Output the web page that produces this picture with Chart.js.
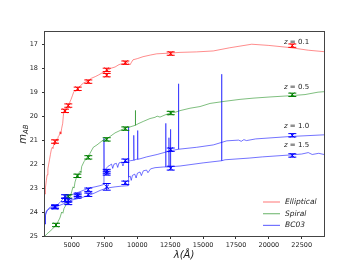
<!DOCTYPE html>
<html>
<head>
<meta charset="utf-8">
<script src="https://cdn.jsdelivr.net/npm/chart.js@4.4.0/dist/chart.umd.min.js"></script>
<style>
  html, body { margin: 0; padding: 0; background: #fff; }
  canvas { display: block; }
</style>
</head>
<body>
<canvas id="myChart" width="360" height="270"></canvas>
<script>
// spectra: wavelength (Angstrom) and AB magnitude
const ellLam = [2968, 3000, 3066, 3130, 3188, 3250, 3317, 3380, 3446, 3520, 3580, 3653, 3700, 3775, 3850, 3900, 3980, 4050, 4110, 4170, 4239, 4315, 4361, 4414, 4490, 4560, 4640, 4740, 4850, 4950, 5050, 5150, 5250, 5350, 5456, 5550, 5650, 5750, 5900, 6050, 6263, 6500, 6800, 7050, 7300, 7500, 7700, 8000, 8300, 8600, 8900, 9056, 9250, 9436, 9550, 9664, 10000, 10425, 11000, 11468, 12480, 13241, 14500, 15774, 17000, 18696, 20000, 21610, 23000, 24196];
const ellMag = [23.25, 23.0, 22.7, 22.45, 22.2, 22.0, 21.8, 21.6, 21.4, 21.3, 21.35, 21.12, 21.2, 21.05, 20.95, 21.05, 20.85, 20.8, 20.65, 20.75, 20.5, 20.3, 20.0, 19.76, 19.78, 19.7, 19.6, 19.55, 19.42, 19.3, 19.15, 19.0, 18.92, 18.95, 18.85, 18.82, 18.75, 18.68, 18.62, 18.58, 18.52, 18.42, 18.35, 18.28, 18.2, 18.16, 18.1, 18.0, 17.95, 17.85, 17.8, 17.8, 17.75, 17.86, 17.75, 17.65, 17.6, 17.52, 17.45, 17.4, 17.37, 17.34, 17.32, 17.28, 17.15, 17.0, 17.05, 17.14, 17.25, 17.31];

const spiLam = [2968, 3100, 3350, 3550, 3729, 3850, 3958, 4100, 4239, 4330, 4414, 4520, 4620, 4700, 4795, 4900, 5000, 5100, 5180, 5251, 5365, 5430, 5502, 5570, 5632, 5700, 5761, 5936, 6141, 6392, 6644, 6925, 7153, 7382, 7663, 7914, 8295, 8675, 9056, 9436, 9845, 9845, 9860, 10045, 10448, 10958, 11338, 11500, 11719, 12099, 12480, 12860, 13241, 14002, 14763, 15524, 16665, 17806, 18795, 20089, 21610, 22752, 23741, 24196];
const spiMag = [25.0, 24.92, 24.8, 24.7, 24.6, 24.5, 24.4, 24.25, 24.0, 24.05, 23.85, 23.75, 23.6, 23.62, 23.4, 23.35, 23.15, 22.95, 23.0, 22.75, 22.55, 22.48, 22.52, 22.35, 22.3, 22.35, 22.1, 21.9, 21.75, 21.55, 21.3, 21.2, 21.1, 21.0, 20.95, 20.85, 20.7, 20.6, 20.5, 20.45, 20.38, 19.76, 20.38, 20.32, 20.22, 20.1, 20.05, 20.0, 20.04, 19.95, 19.87, 19.84, 19.77, 19.67, 19.6, 19.47, 19.38, 19.3, 19.25, 19.2, 19.15, 19.1, 19.0, 18.98];

const bc1Lam = [2968, 3000, 3082, 3200, 3349, 3500, 3729, 3958, 4186, 4414, 4642, 4871, 5403, 5860, 6316, 6773, 7153, 7440, 7454, 7468, 7600, 7750, 7900, 8030, 8120, 8220, 8400, 8500, 8600, 8800, 8900, 9000, 9200, 9450, 9722, 9722, 9740, 9918, 10014, 10014, 10030, 10200, 10700, 11500, 12480, 13126, 13126, 13140, 14500, 15774, 16800, 17700, 17900, 18100, 18300, 19000, 21610, 24196];
const bc1Mag = [24.5, 24.1, 23.95, 23.88, 23.8, 23.78, 23.75, 23.68, 23.55, 23.4, 23.35, 23.3, 23.2, 23.1, 23.0, 22.95, 22.9, 22.85, 20.92, 22.3, 22.2, 22.1, 22.05, 22.0, 22.18, 22.0, 21.97, 22.14, 21.95, 21.92, 22.08, 21.9, 21.88, 21.86, 21.84, 20.8, 21.84, 21.8, 21.8, 20.6, 21.8, 21.78, 21.7, 21.6, 21.45, 21.38, 18.65, 21.38, 21.3, 21.2, 21.03, 21.0, 21.05, 20.98, 21.02, 20.95, 20.85, 20.78];

const bc15Lam = [2968, 3000, 3082, 3200, 3349, 3729, 4186, 4642, 5000, 5403, 5860, 6316, 6773, 7153, 7663, 8300, 8800, 9300, 9318, 9335, 9450, 9530, 9620, 9800, 9900, 10000, 10200, 10300, 10450, 10700, 10800, 11000, 11338, 12000, 12152, 12152, 12170, 12398, 12398, 12410, 12518, 12518, 12530, 13241, 15000, 16408, 16408, 16420, 16665, 18500, 19500, 21610, 22500, 23000, 23300, 23800, 24196];
const bc15Mag = [24.5, 24.15, 24.0, 23.9, 23.85, 23.8, 23.7, 23.6, 23.5, 23.45, 23.38, 23.3, 23.2, 23.1, 23.0, 22.95, 22.92, 22.9, 20.45, 22.55, 22.5, 22.68, 22.47, 22.42, 22.58, 22.38, 22.33, 22.48, 22.28, 22.25, 22.36, 22.2, 22.15, 22.12, 22.12, 20.3, 22.12, 22.12, 20.9, 22.12, 22.11, 20.55, 22.11, 22.08, 21.95, 21.86, 18.25, 21.86, 21.82, 21.75, 21.7, 21.62, 21.58, 21.52, 21.6, 21.55, 21.6];

// photometric points with errors
const ellPhotLam = [3730, 4490, 4740, 5456, 6263, 7663, 7663, 9078, 12533, 21784];
const ellPhotMag = [21.06, 19.78, 19.56, 18.86, 18.56, 18.07, 18.29, 17.77, 17.39, 17.06];
const ellPhotErr = [0.07, 0.07, 0.07, 0.07, 0.07, 0.07, 0.07, 0.07, 0.07, 0.07];
const spiPhotLam = [3806, 4740, 5430, 6263, 7663, 9078, 12533, 21784];
const spiPhotMag = [24.54, 23.35, 22.49, 21.72, 20.97, 20.52, 19.87, 19.11];
const spiPhotErr = [0.07, 0.07, 0.07, 0.07, 0.07, 0.07, 0.07, 0.07];
const bc1PhotLam = [3730, 4490, 4740, 5456, 6263, 7663, 7663, 9078, 12533, 21784];
const bc1PhotMag = [23.77, 23.35, 23.52, 23.28, 23.07, 22.3, 22.38, 21.86, 21.4, 20.8];
const bc1PhotErr = [0.07, 0.07, 0.07, 0.07, 0.07, 0.08, 0.08, 0.07, 0.07, 0.07];
const bc15PhotLam = [3730, 4490, 4740, 5456, 6263, 7663, 9078, 12533, 21784];
const bc15PhotMag = [23.8, 23.5, 23.62, 23.35, 23.28, 22.95, 22.78, 22.17, 21.64];
const bc15PhotErr = [0.07, 0.07, 0.07, 0.07, 0.07, 0.14, 0.07, 0.08, 0.07];

const xTicks = [5000, 7500, 10000, 12500, 15000, 17500, 20000, 22500];
const yTicks = [17, 18, 19, 20, 21, 22, 23, 24, 25];

const legendLabels = ['Elliptical', 'Spiral', 'BC03'];
const zLabels = ['0.1', '0.5', '1.0', '1.5'];
const zLabelLam = 21150;
const zLabelMag = [16.9, 18.79, 20.4, 21.23];

const FONT = "'DejaVu Sans', sans-serif";
const lineColors = ['rgba(255,0,0,0.45)', 'rgba(0,128,0,0.5)', 'rgba(0,0,255,0.55)'];
const markColors = ['#ff0000', '#008000', '#0000ff'];

const toPts = (xs, ys) => xs.map((x, i) => ({ x: x, y: ys[i] }));

function curve(label, lam, mag, color) {
  return { label: label, data: toPts(lam, mag), borderColor: color, borderWidth: 1,
    pointRadius: 0, fill: false, tension: 0, order: 2 };
}
function phot(label, lam, mag, err, color) {
  return { label: label, data: toPts(lam, mag), errs: err, showLine: false,
    pointStyle: 'crossRot', pointRadius: 3.2, borderColor: color, backgroundColor: color,
    pointBorderWidth: 1, order: 1 };
}

// error bars with caps, like matplotlib errorbar
const errorBars = {
  id: 'errorBars',
  afterDatasetsDraw(chart) {
    const ctx = chart.ctx, x = chart.scales.x, y = chart.scales.y;
    chart.data.datasets.forEach(ds => {
      if (!ds.errs) return;
      ctx.save();
      ctx.strokeStyle = ds.borderColor;
      ctx.lineWidth = 1;
      ds.data.forEach((p, i) => {
        const px = x.getPixelForValue(p.x);
        const y0 = y.getPixelForValue(p.y - ds.errs[i]);
        const y1 = y.getPixelForValue(p.y + ds.errs[i]);
        ctx.beginPath();
        ctx.moveTo(px, y0); ctx.lineTo(px, y1);
        ctx.moveTo(px - 4, y0); ctx.lineTo(px + 4, y0);
        ctx.moveTo(px - 4, y1); ctx.lineTo(px + 4, y1);
        ctx.stroke();
      });
      ctx.restore();
    });
  }
};

// frame, axis titles, legend and redshift labels
const decorations = {
  id: 'decorations',
  afterDraw(chart) {
    const ctx = chart.ctx, a = chart.chartArea, x = chart.scales.x, y = chart.scales.y;
    ctx.save();
    ctx.strokeStyle = '#444';
    ctx.lineWidth = 1;
    ctx.strokeRect(Math.round(a.left) - 0.5, Math.round(a.top) - 0.5, a.right - a.left + 1, a.bottom - a.top + 1);

    ctx.fillStyle = '#222';
    // y title m_AB
    ctx.save();
    ctx.translate(26, 134);
    ctx.rotate(-Math.PI / 2);
    ctx.textBaseline = 'alphabetic';
    ctx.font = 'italic 10px ' + FONT;
    const mW = ctx.measureText('m').width;
    ctx.font = 'italic 7px ' + FONT;
    const abW = ctx.measureText('AB').width;
    const start = -(mW + abW) / 2;
    ctx.font = 'italic 10px ' + FONT;
    ctx.fillText('m', start, 0);
    ctx.font = 'italic 7px ' + FONT;
    ctx.fillText('AB', start + mW, 2);
    ctx.restore();

    // x title
    ctx.font = 'italic 10px ' + FONT;
    ctx.textAlign = 'center';
    ctx.textBaseline = 'middle';
    ctx.fillText('\u03bb(\u00c5)', 184, 255);

    // redshift labels
    ctx.textAlign = 'left';
    zLabels.forEach((t, i) => {
      const px = x.getPixelForValue(zLabelLam);
      const py = y.getPixelForValue(zLabelMag[i]);
      ctx.font = 'italic 7px ' + FONT;
      ctx.fillText('z', px, py);
      const zw = ctx.measureText('z').width;
      ctx.font = '7px ' + FONT;
      ctx.fillText(' = ' + t, px + zw, py);
    });

    // legend
    ctx.font = 'italic 7.5px ' + FONT;
    legendLabels.forEach((t, i) => {
      const ly = 202 + i * 11.7;
      ctx.strokeStyle = lineColors[i];
      ctx.lineWidth = 1.2;
      ctx.beginPath();
      ctx.moveTo(263, ly); ctx.lineTo(280, ly);
      ctx.stroke();
      ctx.fillText(t, 285, ly);
    });
    ctx.restore();
  }
};

const ctx = document.getElementById('myChart').getContext('2d');
window.sedChart = new Chart(ctx, {
  type: 'line',
  data: {
    datasets: [
      curve('Elliptical', ellLam, ellMag, lineColors[0]),
      curve('Spiral', spiLam, spiMag, lineColors[1]),
      curve('BC03', bc1Lam, bc1Mag, lineColors[2]),
      curve('BC03 z=1.5', bc15Lam, bc15Mag, lineColors[2]),
      phot('ell phot', ellPhotLam, ellPhotMag, ellPhotErr, markColors[0]),
      phot('spi phot', spiPhotLam, spiPhotMag, spiPhotErr, markColors[1]),
      phot('bc1 phot', bc1PhotLam, bc1PhotMag, bc1PhotErr, markColors[2]),
      phot('bc15 phot', bc15PhotLam, bc15PhotMag, bc15PhotErr, markColors[2])
    ]
  },
  options: {
    responsive: false,
    animation: false,
    events: [],
    layout: { padding: { top: 32, right: 36, left: 0, bottom: 0 } },
    plugins: { legend: { display: false }, tooltip: { enabled: false } },
    scales: {
      x: {
        type: 'linear',
        min: 2968,
        max: 24196,
        afterBuildTicks: s => { s.ticks = xTicks.map(v => ({ value: v })); },
        afterFit: s => { s.height = 34; },
        grid: { drawOnChartArea: false, drawTicks: true, tickLength: 3, color: '#333' },
        border: { display: false },
        ticks: { color: '#222', font: { family: FONT, size: 6.5 }, padding: 2, maxRotation: 0,
          callback: v => String(v) }
      },
      y: {
        type: 'linear',
        reverse: true,
        min: 16.49,
        max: 25,
        afterBuildTicks: s => { s.ticks = yTicks.map(v => ({ value: v })); },
        afterFit: s => { s.width = 45; },
        grid: { drawOnChartArea: false, drawTicks: true, tickLength: 3, color: '#333' },
        border: { display: false },
        ticks: { color: '#222', font: { family: FONT, size: 6.5 }, padding: 4,
          callback: v => String(v) }
      }
    }
  },
  plugins: [errorBars, decorations]
});
</script>
</body>
</html>
